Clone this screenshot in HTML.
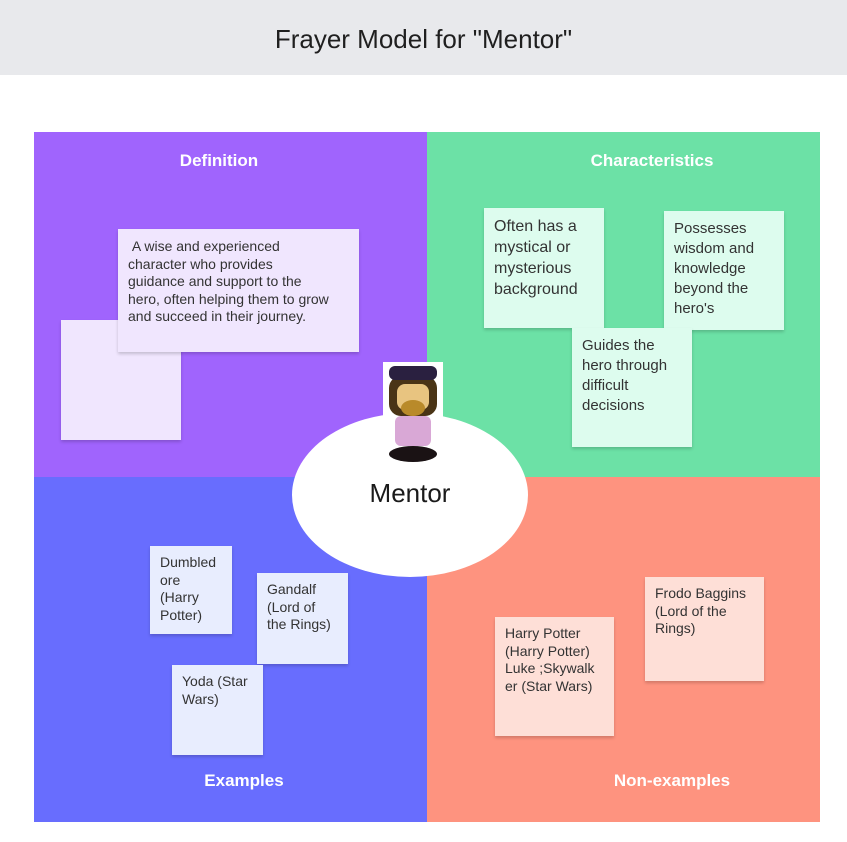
<!DOCTYPE html>
<html><head><meta charset="utf-8"><style>
*{margin:0;padding:0;box-sizing:border-box}
body{width:847px;height:842px;background:#fff;position:relative;overflow:hidden;font-family:"Liberation Sans",sans-serif}
.a{position:absolute}
.s{position:absolute;box-shadow:0 2px 3px rgba(0,0,0,.18);color:#333;font-size:14px;line-height:17.5px;padding:8px 10px}
.h{position:absolute;color:#fff;font-weight:bold;font-size:17px;text-align:center}
</style></head><body>
<div class="a" style="left:0;top:0;width:847px;height:75px;background:#e8e9ec"></div>
<div class="a" style="left:0;top:24px;width:847px;text-align:center;font-size:26px;color:#1f1f1f">Frayer Model for "Mentor"</div>
<div class="a" style="left:34px;top:132px;width:393px;height:345px;background:#a064fd"></div>
<div class="a" style="left:427px;top:132px;width:393px;height:345px;background:#6ce1a6"></div>
<div class="a" style="left:34px;top:477px;width:393px;height:345px;background:#686dfe"></div>
<div class="a" style="left:427px;top:477px;width:393px;height:345px;background:#fe937f"></div>
<div class="h" style="left:34px;top:151px;width:370px">Definition</div>
<div class="h" style="left:427px;top:151px;width:450px">Characteristics</div>
<div class="h" style="left:34px;top:771px;width:420px">Examples</div>
<div class="h" style="left:427px;top:771px;width:490px">Non-examples</div>
<div class="s" style="left:61px;top:320px;width:120px;height:120px;background:#f0e6fe"></div>
<div class="s" style="left:118px;top:229px;width:241px;height:123px;background:#f0e6fe;font-size:14px;padding:9px 28px 8px 10px">&nbsp;A wise and experienced character who provides guidance and support to the hero, often helping them to grow and succeed in their journey.</div>
<div class="s" style="left:484px;top:208px;width:120px;height:120px;background:#ddfcee;font-size:16px;line-height:21px">Often has a mystical or mysterious background</div>
<div class="s" style="left:664px;top:211px;width:120px;height:119px;background:#ddfcee;font-size:15px;line-height:20px">Possesses wisdom and knowledge beyond the hero's</div>
<div class="s" style="left:572px;top:328px;width:120px;height:119px;background:#ddfcee;font-size:15px;line-height:20px">Guides the hero through difficult decisions</div>
<div class="s" style="left:150px;top:546px;width:82px;height:88px;background:#e8edfe">Dumbled ore (Harry Potter)</div>
<div class="s" style="left:257px;top:573px;width:91px;height:91px;background:#e8edfe">Gandalf (Lord of the Rings)</div>
<div class="s" style="left:172px;top:665px;width:91px;height:90px;background:#e8edfe">Yoda (Star Wars)</div>
<div class="s" style="left:495px;top:617px;width:119px;height:119px;background:#fedfd7">Harry Potter (Harry Potter) Luke ;Skywalk er (Star Wars)</div>
<div class="s" style="left:645px;top:577px;width:119px;height:104px;background:#fedfd7">Frodo Baggins (Lord of the Rings)</div>
<div class="a" style="left:292px;top:413px;width:236px;height:164px;border-radius:50%;background:#fff"></div>
<div class="a" style="left:292px;top:478px;width:236px;text-align:center;font-size:26px;color:#1a1a1a">Mentor</div>
<svg class="a" style="left:383px;top:362px" width="60" height="101" viewBox="0 0 60 101">
<rect width="60" height="101" fill="#fff"/>
<ellipse cx="30" cy="92" rx="24" ry="8" fill="#1a1214"/>
<rect x="12" y="54" width="36" height="30" rx="6" fill="#d9a8d6"/>
<rect x="6" y="14" width="48" height="40" rx="12" fill="#4a3416"/>
<rect x="14" y="22" width="32" height="26" rx="8" fill="#e8c480"/>
<ellipse cx="30" cy="46" rx="12" ry="8" fill="#b98a2a"/>
<rect x="6" y="4" width="48" height="14" rx="6" fill="#2a2040"/>
</svg>
</body></html>
